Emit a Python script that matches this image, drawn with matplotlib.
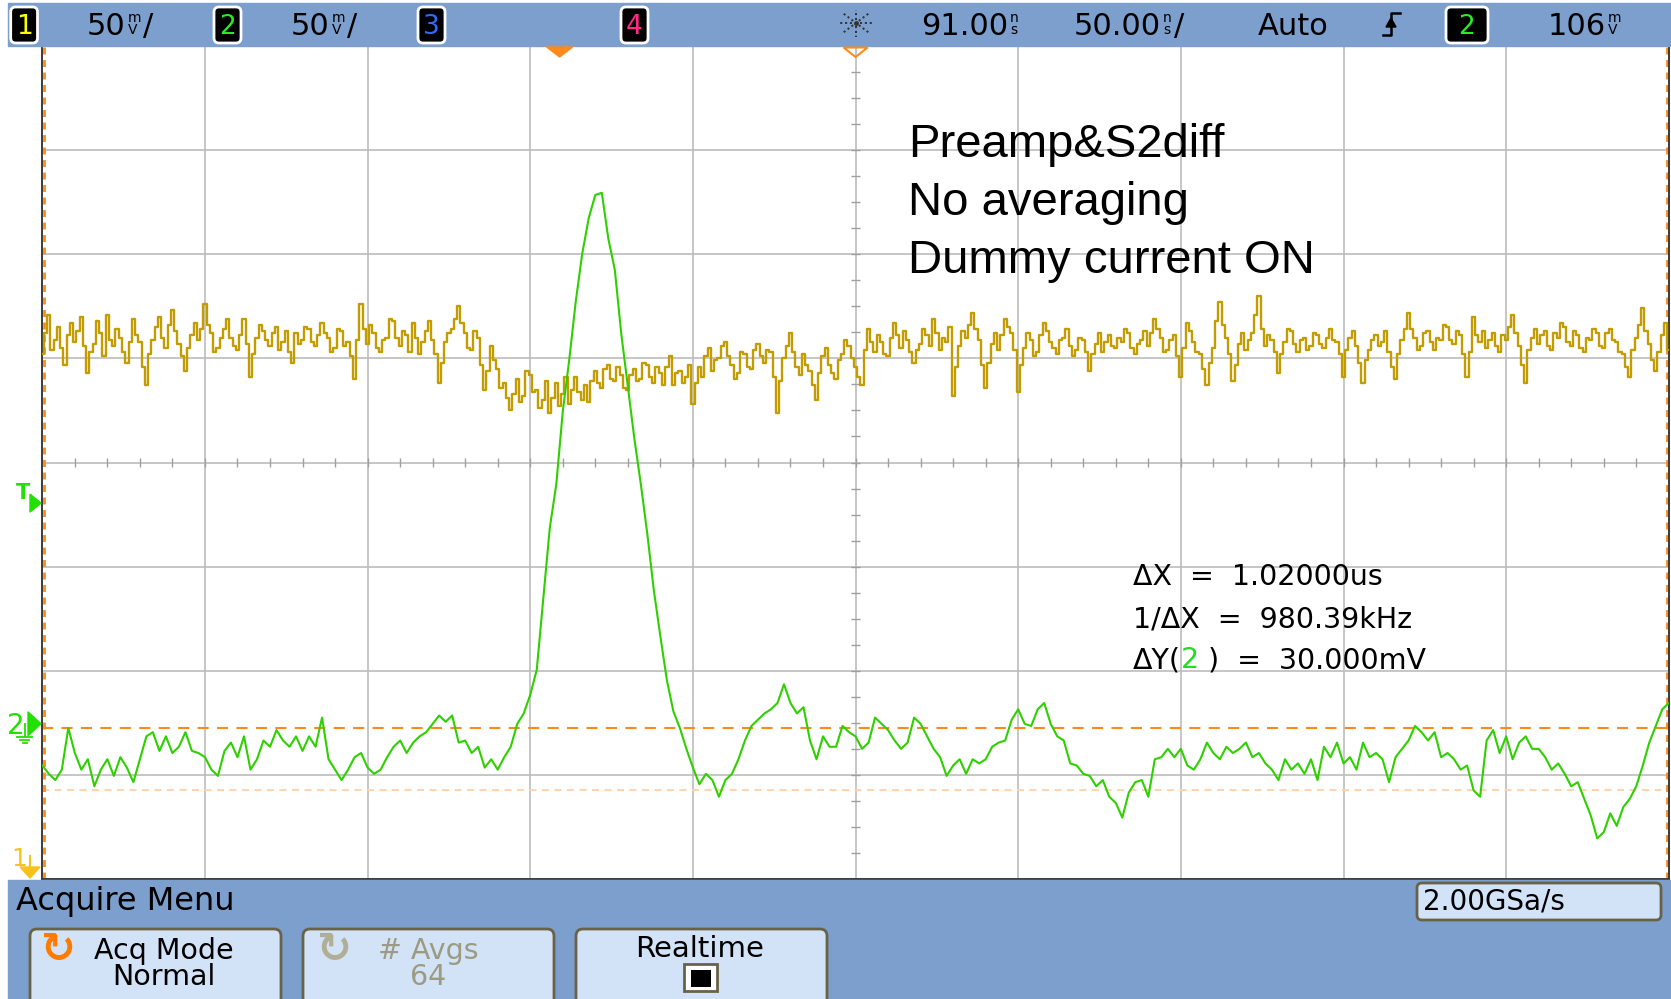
import matplotlib
matplotlib.use("Agg")
import matplotlib.pyplot as plt
import numpy as np
from matplotlib.patches import FancyBboxPatch, Rectangle, Polygon

plt.rcParams["lines.scale_dashes"] = False
plt.rcParams["font.family"] = ["DejaVu Sans"]

W, H = 1671, 999

# scope settings
MV_PER_DIV = 50.0
NS_PER_DIV = 50.0
DELAY_NS = 91.0
T_START = -159.0
CH1_STEP_NS = 1.0
CH2_STEP_NS = 2.0
CH1_POS = 1.0      # div, line the ch1 trace rides on
CH2_POS = -2.51    # div, ch2 ground marker
TRIG_MV = 106.0
CURSOR_Y1 = -2.0
CURSOR_Y2 = -32.0

# channel 1 (yellow), mV about its position line, one value per ns
ch1_mv = [
    2, 12, 21, 4, 9, 15, 5, -3, 11, 17, 8, 13, 20, 6, -7, 3, 7, 18, 12, 1,
    21, 9, 6, 14, 10, 3, -2, 8, 19, 11, 8, -4, -13, 2, 9, 15, 20, 10, 5, 16,
    23, 13, 7, 1, -6, 5, 11, 17, 9, 14, 26, 16, 12, 3, 5, 10, 14, 19, 10, 6,
    4, 11, 19, 7, -9, 2, 10, 16, 13, 9, 6, 12, 15, 4, 8, 13, 3, -2, 12, 7,
    9, 15, 14, 8, 6, 11, 17, 12, 10, 3, 5, 14, 13, 6, 8, 1, -10, 9, 26, 14,
    7, 16, 12, 5, 3, 9, 10, 19, 18, 10, 6, 13, 11, 3, 17, 10, 2, 8, 13, 18,
    9, 2, -12, -2, 8, 12, 14, 19, 25, 17, 12, 5, 4, 13, 10, -3, -15, -6, 6, -1,
    -5, -14, -12, -19, -25, -17, -10, -21, -18, -6, -8, -16, -15, -24, -20, -11, -26, -19, -12, -23,
    -17, -9, -22, -15, -9, -16, -20, -13, -21, -11, -6, -12, -14, -5, -3, -10, -11, -4, -8, -14,
    -15, -8, -5, -11, -10, -2, -3, -9, -12, -4, -7, -13, -4, 1, -13, -7, -6, -12, -9, -3,
    -22, -12, -4, -9, 1, 5, -6, -1, 0, 6, 8, 1, -3, -10, -7, 3, 2, -4, -5, 4,
    7, 1, -2, 4, 3, -9, -26, -11, 0, 6, 12, 3, -4, -8, 2, -3, -6, -13, -20, -7,
    1, 5, -3, -7, -10, -1, 2, 9, 6, 0, -4, -9, -13, 4, 14, 8, 3, 11, 8, 2,
    1, 10, 17, 11, 5, 13, 9, 3, -2, 4, 7, 14, 11, 6, 19, 12, 4, 10, 8, 15,
    -18, -4, 6, 13, 10, 16, 22, 14, 9, -3, -14, -2, 7, 12, 4, 11, 19, 15, 12, 4,
    -16, -3, 5, 12, 9, 1, 3, 11, 17, 13, 8, 5, 2, 9, 10, 14, 6, 1, 4, 10,
    9, 3, -6, 2, 7, 12, 3, 8, 11, 6, 5, 10, 8, 14, 12, 5, 2, 7, 9, 13,
    6, 12, 19, 14, 10, 3, 4, 9, 11, 1, -9, 5, 17, 13, 8, 3, 2, -5, -13, -2,
    5, 18, 27, 16, 10, 2, -11, -3, 7, 12, 4, 9, 12, 21, 30, 14, 6, 11, 9, 3,
    -7, 2, 8, 14, 13, 7, 3, 9, 10, 4, 6, 12, 11, 7, 5, 10, 14, 9, 8, 2,
    -9, 4, 10, 13, 6, -2, -12, -1, 4, 9, 11, 6, 8, 13, 3, -4, -10, 2, 9, 14,
    22, 14, 10, 4, 6, 12, 13, 8, 4, 10, 9, 16, 15, 9, 7, 13, 11, 2, -9, 3,
    20, 11, 8, 13, 5, 9, 12, 6, 3, 11, 9, 15, 21, 12, 6, -3, -12, 4, 10, 14,
    7, 11, 13, 6, 4, 12, 10, 17, 15, 8, 6, 13, 11, 5, 3, 10, 9, 14, 12, 6,
    5, 12, 14, 9, 8, 3, 2, -4, -9, 4, 10, 16, 24, 13, 7, -1, -6, 3, 11, 17,
    4,
]

# channel 2 (green), mV about its ground, one value per 2 ns
ch2_mv = [
    -20, -24, -27, -22, -2, -14, -22, -17, -30, -22,
    -17, -25, -16, -21, -28, -17, -6, -4, -13, -6,
    -14, -11, -4, -13, -14, -16, -22, -25, -13, -9,
    -16, -6, -22, -17, -8, -11, -3, -8, -11, -6,
    -13, -6, -11, 3, -17, -22, -27, -22, -16, -14,
    -21, -24, -22, -16, -11, -8, -14, -9, -6, -4,
    0, 4, 1, 4, -9, -8, -14, -11, -21, -17,
    -22, -16, -11, 0, 5, 14, 26, 60, 94, 115,
    150, 175, 203, 226, 243, 254, 255, 233, 218, 187,
    162, 137, 115, 91, 64, 42, 21, 6, -2, -12,
    -21, -29, -24, -27, -35, -27, -24, -17, -8, -1,
    2, 5, 7, 10, 19, 10, 5, 8, -8, -17,
    -6, -11, -11, -1, -4, -6, -12, -9, 3, 0,
    -3, -8, -12, -9, 3, 0, -6, -12, -16, -25,
    -20, -17, -24, -17, -19, -17, -11, -9, -8, 2,
    7, 0, -1, 7, 10, 0, -6, -8, -19, -20,
    -24, -25, -30, -27, -35, -38, -45, -33, -28, -27,
    -35, -17, -16, -12, -16, -12, -20, -22, -17, -9,
    -14, -17, -11, -14, -12, -9, -16, -14, -19, -22,
    -27, -17, -22, -19, -24, -17, -27, -11, -16, -9,
    -19, -16, -22, -9, -16, -14, -17, -28, -16, -12,
    -8, -1, -4, -8, -4, -16, -14, -17, -22, -20,
    -32, -35, -8, -3, -14, -6, -17, -9, -6, -12,
    -12, -16, -22, -19, -24, -30, -28, -36, -44, -55,
    -52, -43, -49, -40, -36, -30, -20, -9, -1, 7,
    10,
]

BLUE = "#7c9fcd"
BTN = "#d2e3f7"
EDGE = "#6a6246"
GRID = "#bcbcbc"
CH1_C = "#c39c00"
CH2_C = "#2ed000"
ORANGE = "#ff8a1c"

t1 = T_START + CH1_STEP_NS * np.arange(len(ch1_mv))
t2 = T_START + CH2_STEP_NS * np.arange(len(ch2_mv))
x1 = (t1 - DELAY_NS) / NS_PER_DIV
x2 = (t2 - DELAY_NS) / NS_PER_DIV
y1 = np.array(ch1_mv) / MV_PER_DIV + CH1_POS
y2 = np.array(ch2_mv) / MV_PER_DIV + CH2_POS

fig = plt.figure(figsize=(W / 100, H / 100), dpi=100)
fig.patch.set_facecolor("white")

# graticule
gx0, gx1, gy0, gy1 = 42.3, 1668.8, 46.0, 879.0
ax = fig.add_axes([gx0 / W, 1 - gy1 / H, (gx1 - gx0) / W, (gy1 - gy0) / H])
ax.set_xlim(-5, 5)
ax.set_ylim(-4, 4)
ax.set_xticks([])
ax.set_yticks([])
for s in ax.spines.values():
    s.set_color("#3a3a3a")
    s.set_linewidth(1.4)
for k in range(-4, 5):
    ax.axvline(k, color=GRID, lw=1.2, zorder=1)
for k in range(-3, 4):
    ax.axhline(k, color=GRID, lw=1.2, zorder=1)
ax.vlines(np.arange(-5, 5.01, 0.2), -0.04, 0.04, color="#a0a0a0", lw=1.0, zorder=1)
ax.hlines(np.arange(-4, 4.01, 0.25), -0.025, 0.025, color="#a0a0a0", lw=1.0, zorder=1)

# cursors
ax.axhline(CURSOR_Y2 / MV_PER_DIV + CH2_POS, color="#ffd3ad", lw=1.4, dashes=(5, 4), zorder=2)
ax.axhline(CURSOR_Y1 / MV_PER_DIV + CH2_POS, color=ORANGE, lw=1.5, dashes=(8, 6), zorder=2)
ax.axvline(-4.992, color=ORANGE, lw=2.0, dashes=(5, 4), zorder=2)
ax.axvline(4.992, color=ORANGE, lw=2.0, dashes=(5, 4), zorder=2)

# traces
ax.plot(x1, y1, drawstyle="steps-mid", color=CH1_C, lw=1.7, zorder=3)
ax.plot(x2, y2, color=CH2_C, lw=1.5, zorder=4)

# overlay in pixel coordinates
ov = fig.add_axes([0, 0, 1, 1], zorder=5)
ov.set_xlim(0, W)
ov.set_ylim(H, 0)
ov.axis("off")
ov.patch.set_alpha(0)
rend = fig.canvas.get_renderer()

ov.add_patch(Rectangle((8, 3), W - 8, 43, color=BLUE, zorder=0))
ov.add_patch(Rectangle((8, 880), W - 8, H - 880, color=BLUE, zorder=0))


def badge(x0, x1, digit, color):
    ov.add_patch(FancyBboxPatch((x0, 7), x1 - x0, 36, boxstyle="round,pad=0,rounding_size=5",
                                fc="black", ec="white", lw=2))
    ov.text((x0 + x1) / 2, 34.5, digit, color=color, fontsize=19, ha="center", va="baseline")


def reading(x, digits, unit, slash=False):
    """scope readout: big digits, stacked small unit, optional slash"""
    t = ov.text(x, 35, digits, fontsize=22, va="baseline", ha="left")
    x += t.get_window_extent(rend).width + 2
    u = ov.text(x, 24, unit, fontsize=10, va="center", ha="left", linespacing=0.85)
    x += u.get_window_extent(rend).width + 2
    if slash:
        ov.text(x, 35, "/", fontsize=22, va="baseline", ha="left")


badge(10.7, 37.5, "1", "#ffff00")
reading(87, "50", "m\nV", slash=True)
badge(214, 241, "2", "#22ee22")
reading(291, "50", "m\nV", slash=True)
badge(418, 445, "3", "#2f6bff")
badge(621, 648, "4", "#ff2a88")

# agilent spark at the centre
cx, cy = 856, 23
for a in np.arange(0, 360, 45):
    r = np.array([4, 18])
    ov.plot(cx + r * np.cos(np.radians(a)), cy + r * np.sin(np.radians(a)) * 0.75,
            color="#333333", lw=1.4, ls=(0, (1.5, 2.0)))
ov.plot([cx], [cy], marker="o", ms=2.5, color="#333333")

reading(921, "91.00", "n\ns")
reading(1074, "50.00", "n\ns", slash=True)
ov.text(1258, 35, "Auto", fontsize=22, va="baseline")
ov.plot([1383, 1391, 1391, 1400], [35, 35, 13, 13], color="black", lw=1.8)
ov.add_patch(Polygon([(1386, 27), (1396, 27), (1391, 18)], color="black"))
ov.add_patch(FancyBboxPatch((1446, 7), 42, 36, boxstyle="round,pad=0,rounding_size=5",
                            fc="black", ec="white", lw=2))
ov.text(1467, 34.5, "2", color="#22ee22", fontsize=19, ha="center", va="baseline")
reading(1548, "106", "m\nV")

# markers on the top edge
tx = 855.6 + (0 - DELAY_NS) / NS_PER_DIV * 162.65
ov.add_patch(Polygon([(tx - 13, 47), (tx + 13, 47), (tx, 57)], color=ORANGE))
ov.add_patch(Polygon([(855.6 - 12, 47.5), (855.6 + 12, 47.5), (855.6, 57)],
                     fill=False, ec=ORANGE, lw=1.5))

# channel markers on the left
GREEN = "#22e000"
ty = 462.5 - (TRIG_MV / MV_PER_DIV + CH2_POS) * 104.1
ov.text(16, ty - 4, "T", color=GREEN, fontsize=15, va="baseline", fontweight="bold")
ov.add_patch(Polygon([(30, ty - 9), (30, ty + 9), (41, ty)], color=GREEN))
gy = 462.5 - CH2_POS * 104.1
ov.text(7, gy + 10, "2", color=GREEN, fontsize=20, va="baseline")
ov.add_patch(Polygon([(28, gy - 12), (28, gy + 12), (41, gy)], color=GREEN))
ov.plot([24.5, 24.5], [gy, gy + 13], color=GREEN, lw=1.3)
ov.plot([17, 32], [gy + 13, gy + 13], color=GREEN, lw=1.3)
ov.plot([20, 29], [gy + 16, gy + 16], color=GREEN, lw=1.3)
ov.plot([22.5, 26.5], [gy + 19, gy + 19], color=GREEN, lw=1.3)
YEL = "#f7c21b"
ov.text(11, 866, "1", color=YEL, fontsize=18, va="baseline")
ov.add_patch(Polygon([(20, 867), (40, 867), (30, 878)], color=YEL))
ov.plot([30, 30], [856, 867], color=YEL, lw=1.5)

# annotation text
note = dict(fontsize=34, color="black", va="baseline", family=["Liberation Sans", "DejaVu Sans"])
ov.text(908, 157, "Preamp&S2diff", **note)
ov.text(908, 215, "No averaging", **note)
ov.text(908, 273, "Dummy current ON", **note)

meas = dict(fontsize=20.5, va="baseline")
ov.text(1133, 585, "ΔX  =  1.02000us", **meas)
ov.text(1133, 627, "1/ΔX  =  980.39kHz", **meas)
xx = 1133
for s, c in [("ΔY(", "black"), ("2", "#22dd22"), (" )  =  30.000mV", "black")]:
    tt = ov.text(xx, 668, s, color=c, **meas)
    xx += tt.get_window_extent(rend).width

# bottom menu
ov.text(16, 910, "Acquire Menu", fontsize=23, va="baseline")


def button(x0, x1):
    ov.add_patch(FancyBboxPatch((x0, 929), x1 - x0, 85, boxstyle="round,pad=0,rounding_size=7",
                                fc=BTN, ec=EDGE, lw=2))


btn_txt = dict(fontsize=20.5, ha="center", va="center", multialignment="center", linespacing=0.92)
button(30, 281)
button(303, 554)
button(576, 827)
ov.text(57, 950, "↻", color="#ff7a00", fontsize=30, ha="center", va="center", fontweight="bold")
ov.text(164, 964, "Acq Mode\nNormal", **btn_txt)
GREY = "#9c9a80"
ov.text(333, 950, "↻", color="#b0ae96", fontsize=30, ha="center", va="center", fontweight="bold")
ov.text(428, 964, "# Avgs\n64", color=GREY, **btn_txt)
ov.text(700, 957, "Realtime", fontsize=21, va="baseline", ha="center")
ov.add_patch(Rectangle((684, 964), 33, 27, fc="white", ec=EDGE, lw=2))
ov.add_patch(Rectangle((691, 970), 20, 17, fc="black"))

ov.add_patch(FancyBboxPatch((1417, 883), 244, 37, boxstyle="round,pad=0,rounding_size=5",
                            fc=BTN, ec=EDGE, lw=2))
ov.text(1423, 910, "2.00GSa/s", fontsize=20, va="baseline")

fig.savefig("out.png", dpi=100)
